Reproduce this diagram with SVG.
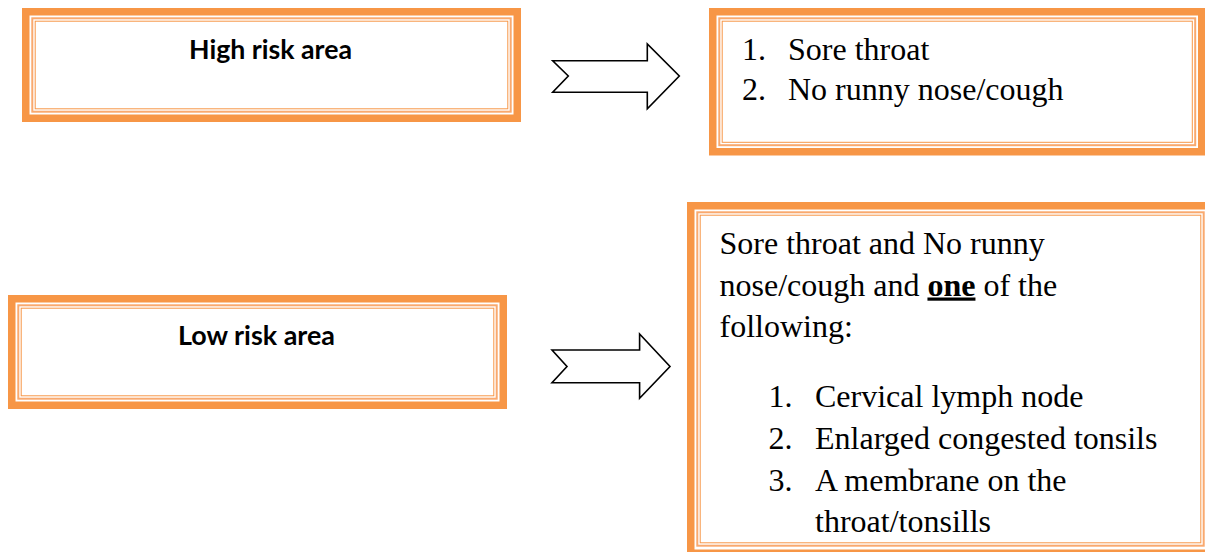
<svg xmlns="http://www.w3.org/2000/svg" width="1205" height="552" viewBox="0 0 1205 552">
<style>
.band{fill:none;stroke:#F79646;stroke-width:7.5}
.l1{fill:none;stroke:#F9A96E;stroke-width:2}
.l2{fill:none;stroke:#F79646;stroke-width:1}
.lbl{font-family:Lato,"Liberation Sans",sans-serif;font-weight:bold;font-size:26px;fill:#000}
.ser{font-family:"Liberation Serif","Times New Roman",serif;font-size:32px;fill:#000}
.arrow{fill:#fff;stroke:#000;stroke-width:1.6;stroke-linejoin:miter}
</style>
<rect width="1205" height="552" fill="#fff"/>
<g id="high-risk">
<rect class="band" x="25.75" y="11.75" width="491.5" height="106.5"/>
<rect class="l1" x="32.3" y="18.3" width="478.4" height="93.4"/>
<rect class="l2" x="35.2" y="21.2" width="472.6" height="87.6"/>
<text class="lbl" x="189" y="59" textLength="163" lengthAdjust="spacingAndGlyphs">High risk area</text>
</g>
<g id="low-risk">
<rect class="band" x="11.75" y="298.75" width="491.5" height="106.5"/>
<rect class="l1" x="18.3" y="305.3" width="478.4" height="93.4"/>
<rect class="l2" x="21.2" y="308.2" width="472.6" height="87.6"/>
<text class="lbl" x="178" y="345" textLength="157" lengthAdjust="spacingAndGlyphs">Low risk area</text>
</g>
<g id="high-criteria">
<rect class="band" x="712.75" y="11.75" width="489" height="140"/>
<rect class="l1" x="719.3" y="18.3" width="475.9" height="126.9"/>
<rect class="l2" x="722.2" y="21.2" width="470.1" height="121.1"/>
<text class="ser" x="742" y="60">1.</text>
<text class="ser" x="788" y="60">Sore throat</text>
<text class="ser" x="742" y="100">2.</text>
<text class="ser" x="788" y="100">No runny nose/cough</text>
</g>
<g id="low-criteria">
<rect class="band" x="690.75" y="205.75" width="520" height="347.5"/>
<rect class="l1" x="697.3" y="212.3" width="506.4" height="333.4"/>
<rect class="l2" x="700.2" y="215.2" width="500.6" height="327.6"/>
<text class="ser" x="719.5" y="254">Sore throat and No runny</text>
<text class="ser" x="719.5" y="295.5">nose/cough and <tspan font-weight="bold" text-decoration="underline">one</tspan> of the</text>
<text class="ser" x="719.5" y="337">following:</text>
<text class="ser" x="768.5" y="407">1.</text>
<text class="ser" x="815" y="407">Cervical lymph node</text>
<text class="ser" x="768.5" y="449">2.</text>
<text class="ser" x="815" y="449">Enlarged congested tonsils</text>
<text class="ser" x="768.5" y="490.5">3.</text>
<text class="ser" x="815" y="490.5">A membrane on the</text>
<text class="ser" x="815" y="532">throat/tonsills</text>
</g>
<g id="connectors">
<polygon class="arrow" points="552.7,60.7 647.3,60.7 647.3,44 679.3,76 647.3,108.7 647.3,92.3 552.7,92.3 568.3,76"/>
<polygon class="arrow" points="552,350 639.6,350 639.6,334 670,366.5 639.6,398.3 639.6,382.7 552,382.7 567,366.5"/>
</g>
</svg>
